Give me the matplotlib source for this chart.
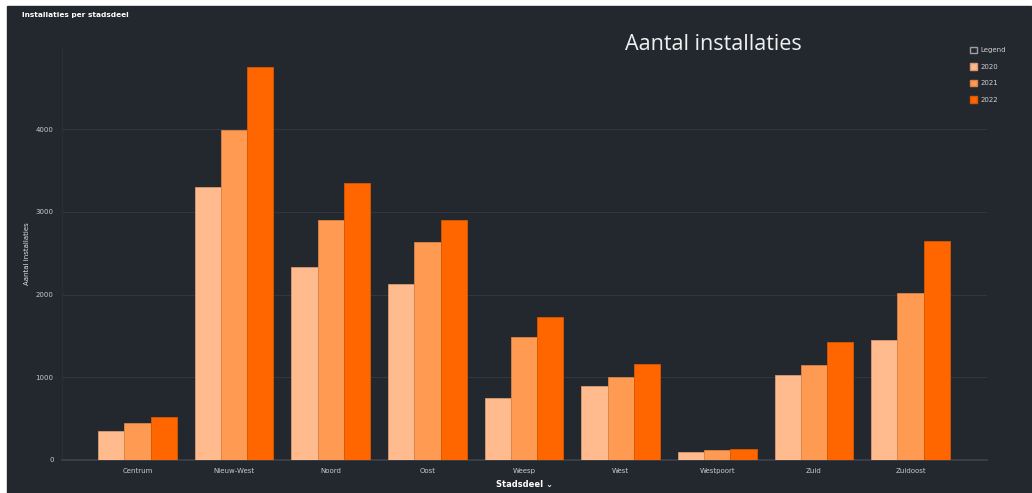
import matplotlib.pyplot as plt
import matplotlib.patches as mpatches
import numpy as np

# Installaties per stadsdeel
stadsdelen = ["Centrum", "Nieuw-West", "Noord", "Oost", "Weesp",
              "West", "Westpoort", "Zuid", "Zuidoost"]
jaren = ["2020", "2021", "2022"]
v2020 = [355, 3295, 2335, 2130, 755, 900, 97, 1027, 1450]
v2021 = [443, 3990, 2900, 2630, 1490, 1000, 120, 1148, 2015]
v2022 = [523, 4745, 3345, 2900, 1730, 1165, 138, 1430, 2648]
yticks = [0, 1000, 2000, 3000, 4000]

bg = "#23272e"
kleuren = ["#ffbb8d", "#ff9a52", "#ff6600"]
randen = ["#d99a72", "#d98446", "#d95700"]

fig = plt.figure(figsize=(10.32, 4.93), dpi=100, facecolor="white")
# dark panel, leaving a thin white margin top/left like the screenshot
fig.patches.append(mpatches.Rectangle((7 / 1032, 0), 1 - 8 / 1032, 1 - 6 / 493,
                                      transform=fig.transFigure, color=bg, zorder=-10))

ax = fig.add_axes([62 / 1032, 33 / 493, 925 / 1032, 412 / 493])
ax.set_zorder(1)
ax.set_facecolor(bg)

x = np.arange(len(stadsdelen))
w = 0.272
for i, (vals, jaar) in enumerate(zip([v2020, v2021, v2022], jaren)):
    ax.bar(x + (i - 1) * w, vals, width=w, color=kleuren[i], edgecolor=randen[i],
           linewidth=0.6, label=jaar, zorder=3)

ax.set_xlim(-0.78, 8.79)
ax.set_ylim(0, 4980)
ax.set_yticks(yticks)
ax.set_yticklabels([str(t) for t in yticks])
ax.set_xticks(x)
ax.set_xticklabels(stadsdelen)
ax.tick_params(axis="both", length=0, labelsize=5, labelcolor="#c8c8d0", pad=6)
ax.grid(axis="y", color="#32363e", linewidth=0.8, zorder=0)
for s in ["top", "right"]:
    ax.spines[s].set_visible(False)
ax.spines["left"].set_color("#2c3038")
ax.spines["left"].set_linewidth(0.6)
ax.spines["bottom"].set_color("#3e434c")
ax.spines["bottom"].set_linewidth(1.2)

ax.set_ylabel("Aantal installaties", fontsize=5, color="#e0e0e0", labelpad=4)
ax.set_xlabel("Stadsdeel \u2304", fontsize=6, color="white", fontweight="bold", labelpad=4)

fig.text(22 / 1032, 1 - 15 / 493, "Installaties per stadsdeel", fontsize=5.3,
         color="white", fontweight="bold", va="center", ha="left")
fig.text(625 / 1032, 1 - 45 / 493, "Aantal installaties", fontsize=15.5,
         color="#f0f0f0", va="center", ha="left", family="Open Sans")

# legend
leg = ax.legend(handles=[mpatches.Patch(facecolor=bg, edgecolor="#a0a0a0", label="Legend")] +
                [mpatches.Patch(facecolor=kleuren[i], edgecolor=randen[i], label=j)
                 for i, j in enumerate(jaren)],
                loc="upper left", bbox_to_anchor=(967 / 1032, 1 - 44 / 493),
                bbox_transform=fig.transFigure, frameon=False, fontsize=5,
                labelcolor="#d0d0d0", handlelength=1.1, handleheight=1.1,
                handletextpad=0.4, labelspacing=1.4, borderaxespad=0)

fig.savefig("out.png", dpi=100, facecolor=fig.get_facecolor())
